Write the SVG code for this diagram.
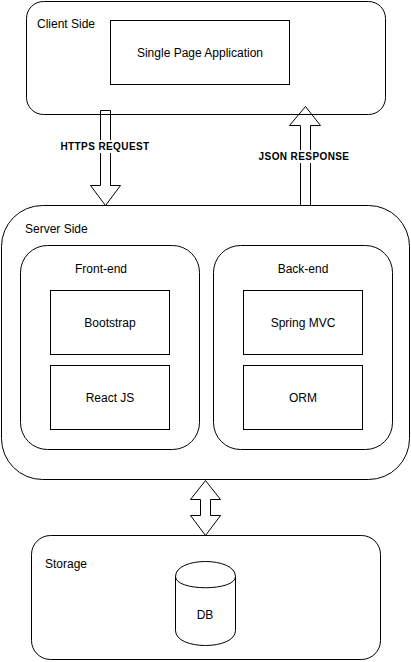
<svg xmlns="http://www.w3.org/2000/svg" width="411" height="662" viewBox="0 0 411 662">
  <style>
    .box { fill: #ffffff; stroke: #000000; stroke-width: 1; }
    .arrow { fill: none; stroke: #000000; stroke-width: 1; stroke-linejoin: miter; }
    .t { font-family: "Liberation Sans", Arial, Helvetica, sans-serif; font-size: 12px; fill: #000000; }
    .c { text-anchor: middle; }
    .lbl { font-family: "Liberation Sans", Arial, Helvetica, sans-serif; font-size: 10px; font-weight: bold; fill: #000000; text-anchor: middle; letter-spacing: 0.4px; }
  </style>
  <rect width="411" height="662" fill="#ffffff"/>

  <g id="client-side">
    <rect class="box" x="26.5" y="1.5" width="359" height="113" rx="17" ry="17"/>
    <text class="t" x="37" y="28">Client Side</text>
  </g>
  <g id="spa">
    <rect class="box" x="110.5" y="20.5" width="179" height="64"/>
    <text class="t c" x="200" y="57">Single Page Application</text>
  </g>

  <g id="server-side">
    <rect class="box" x="1.5" y="205.5" width="408" height="274" rx="41" ry="41"/>
    <text class="t" x="25" y="233">Server Side</text>
  </g>
  <g id="front-end">
    <rect class="box" x="20.5" y="245.5" width="179" height="204" rx="27" ry="27"/>
    <text class="t c" x="101" y="273">Front-end</text>
  </g>
  <g id="bootstrap">
    <rect class="box" x="50.5" y="290.5" width="119" height="64"/>
    <text class="t c" x="110" y="327">Bootstrap</text>
  </g>
  <g id="react-js">
    <rect class="box" x="50.5" y="365.5" width="119" height="64"/>
    <text class="t c" x="110" y="402">React JS</text>
  </g>
  <g id="back-end">
    <rect class="box" x="213.5" y="245.5" width="179" height="204" rx="27" ry="27"/>
    <text class="t c" x="303" y="273">Back-end</text>
  </g>
  <g id="spring-mvc">
    <rect class="box" x="243.5" y="290.5" width="119" height="64"/>
    <text class="t c" x="303" y="327">Spring MVC</text>
  </g>
  <g id="orm">
    <rect class="box" x="243.5" y="365.5" width="119" height="64"/>
    <text class="t c" x="303" y="402">ORM</text>
  </g>

  <g id="storage">
    <rect class="box" x="31.5" y="535.5" width="349" height="124" rx="19" ry="19"/>
    <text class="t" x="45" y="568">Storage</text>
  </g>
  <g id="db">
    <path class="box" d="M175.5,576.5 C175.5,556.5 235.5,556.5 235.5,576.5 L235.5,630.5 C235.5,650.5 175.5,650.5 175.5,630.5 Z"/>
    <path class="box" d="M175.5,576.5 C175.5,591.5 235.5,591.5 235.5,576.5" style="fill:none"/>
    <text class="t c" x="205" y="619">DB</text>
  </g>

  <g id="connectors">
    <g id="https-request">
      <polygon class="arrow" points="100.5,110.5 110.5,110.5 110.5,185.5 120.5,185.5 105.5,205.5 90.5,185.5 100.5,185.5"/>
      <rect x="58" y="140" width="94" height="13" fill="#ffffff"/>
      <text class="lbl" x="105" y="150">HTTPS REQUEST</text>
    </g>
    <g id="json-response">
      <polygon class="arrow" points="300.5,205.5 310.5,205.5 310.5,125.5 320.5,125.5 305.5,106.5 289.5,125.5 300.5,125.5"/>
      <rect x="256" y="150" width="96" height="13" fill="#ffffff"/>
      <text class="lbl" x="304" y="160">JSON RESPONSE</text>
    </g>
    <g id="server-storage">
      <polygon class="arrow" points="205.5,480.5 220.5,499.5 210.5,499.5 210.5,515.5 220.5,515.5 205.5,535.5 190.5,515.5 200.5,515.5 200.5,499.5 190.5,499.5"/>
    </g>
  </g>
</svg>
